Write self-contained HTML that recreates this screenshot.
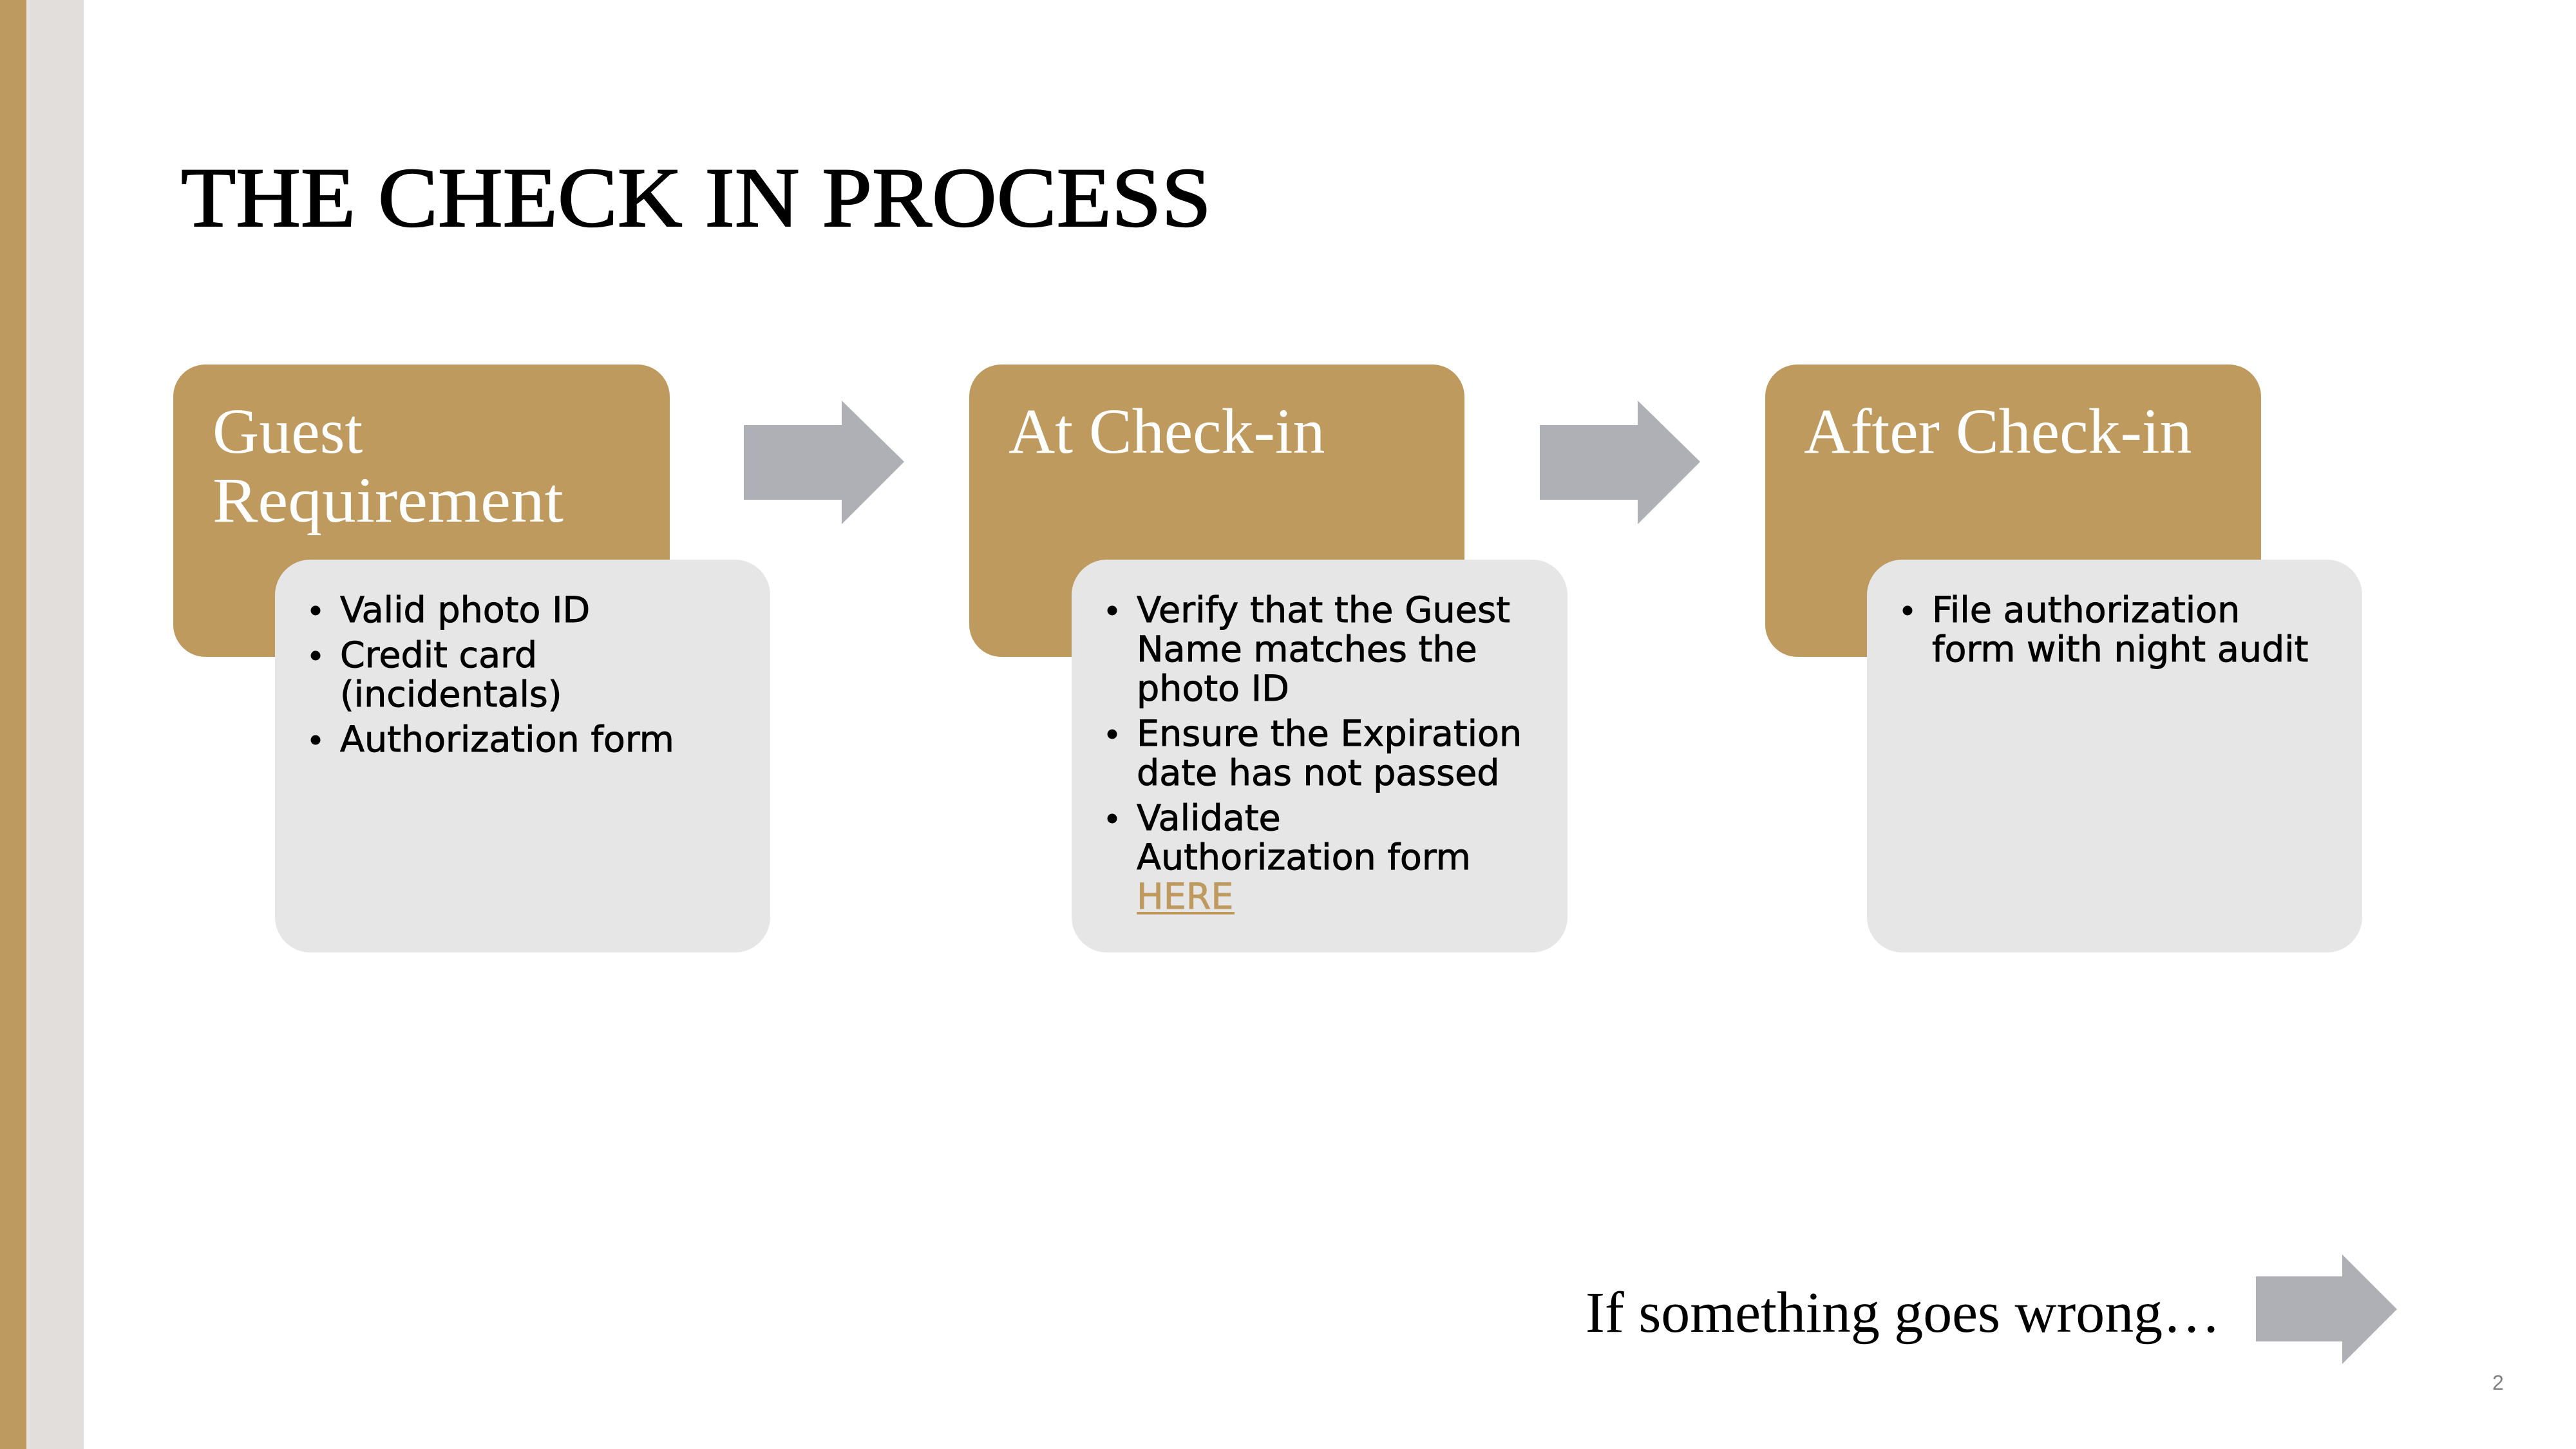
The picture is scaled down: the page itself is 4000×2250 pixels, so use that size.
<!DOCTYPE html>
<html>
<head>
<meta charset="utf-8">
<style>
  html, body { margin: 0; padding: 0; background: #ffffff; }
  body { width: 4000px; height: 2250px; overflow: hidden; }
  svg { display: block; }
  .hdr { font-family: "Liberation Serif", serif; font-size: 100px; fill: #ffffff; }
  .bul { font-family: "DejaVu Sans", "Liberation Sans", sans-serif; font-size: 55.5px; fill: #000000; stroke: #000000; stroke-width: 0.9px; }
</style>
</head>
<body>
<svg width="4000" height="2250" viewBox="0 0 4000 2250" xmlns="http://www.w3.org/2000/svg">
  <rect x="0" y="0" width="4000" height="2250" fill="#ffffff"/>
  <!-- left bars -->
  <rect x="0" y="0" width="41" height="2250" fill="#BD9A60"/>
  <rect x="41" y="0" width="89" height="2250" fill="#E2DEDB"/>
  <rect x="41" y="0" width="5" height="2250" fill="#E8E2DE"/>

  <!-- title -->
  <text x="281" y="351" font-family="Liberation Serif, serif" font-size="132" fill="#000" stroke="#000" stroke-width="2" textLength="1600" lengthAdjust="spacingAndGlyphs">THE CHECK IN PROCESS</text>

  <!-- gold boxes -->
  <rect x="269" y="566" width="771" height="454" rx="50" ry="50" fill="#BE9A5E"/>
  <rect x="1505" y="566" width="769" height="454" rx="50" ry="50" fill="#BE9A5E"/>
  <rect x="2741" y="566" width="770" height="454" rx="50" ry="50" fill="#BE9A5E"/>

  <text class="hdr" x="330" y="703">Guest</text>
  <text class="hdr" x="330" y="810" textLength="545" lengthAdjust="spacingAndGlyphs">Requirement</text>
  <text class="hdr" x="1566" y="703">At Check-in</text>
  <text class="hdr" x="2801" y="703">After Check-in</text>

  <!-- gray boxes -->
  <rect x="427" y="869" width="769" height="610" rx="55" ry="55" fill="#E6E6E6"/>
  <rect x="1664" y="869" width="770" height="610" rx="55" ry="55" fill="#E6E6E6"/>
  <rect x="2899" y="869" width="769" height="610" rx="55" ry="55" fill="#E6E6E6"/>

  <!-- box 1 bullets -->
  <circle cx="490" cy="948" r="7.5" fill="#000"/>
  <circle cx="490" cy="1018" r="7.5" fill="#000"/>
  <circle cx="490" cy="1149" r="7.5" fill="#000"/>
  <text class="bul" x="528" y="966">Valid photo ID</text>
  <text class="bul" x="528" y="1036">Credit card</text>
  <text class="bul" x="528" y="1097">(incidentals)</text>
  <text class="bul" x="528" y="1167">Authorization form</text>

  <!-- box 2 bullets -->
  <circle cx="1727" cy="948" r="7.5" fill="#000"/>
  <circle cx="1727" cy="1140" r="7.5" fill="#000"/>
  <circle cx="1727" cy="1271" r="7.5" fill="#000"/>
  <text class="bul" x="1765" y="966" textLength="580" lengthAdjust="spacingAndGlyphs">Verify that the Guest</text>
  <text class="bul" x="1765" y="1027">Name matches the</text>
  <text class="bul" x="1765" y="1088">photo ID</text>
  <text class="bul" x="1765" y="1158">Ensure the Expiration</text>
  <text class="bul" x="1765" y="1219">date has not passed</text>
  <text class="bul" x="1765" y="1289">Validate</text>
  <text class="bul" x="1765" y="1350">Authorization form</text>
  <text class="bul" x="1765" y="1411" style="fill:#BE9A5E;stroke:#BE9A5E">HERE</text>
  <rect x="1765" y="1416" width="152" height="4" fill="#BE9A5E"/>

  <!-- box 3 bullets -->
  <circle cx="2962" cy="948" r="7.5" fill="#000"/>
  <text class="bul" x="3000" y="966">File authorization</text>
  <text class="bul" x="3000" y="1027">form with night audit</text>

  <!-- arrows -->
  <polygon points="1155,660 1307,660 1307,622 1404,717 1307,814 1307,776 1155,776" fill="#AEB0B5"/>
  <polygon points="2391,660 2543,660 2543,622 2640,717 2543,814 2543,776 2391,776" fill="#AEB0B5"/>
  <polygon points="3503,1982 3637,1982 3637,1948 3722,2033 3637,2118 3637,2083 3503,2083" fill="#AEB0B5"/>

  <!-- bottom text -->
  <text x="2462" y="2068" font-family="Liberation Serif, serif" font-size="90" fill="#000" textLength="986" lengthAdjust="spacingAndGlyphs">If something goes wrong…</text>

  <!-- page number -->
  <text x="3870" y="2158" font-family="Liberation Sans, sans-serif" font-size="32" fill="#808080">2</text>
</svg>
</body>
</html>
